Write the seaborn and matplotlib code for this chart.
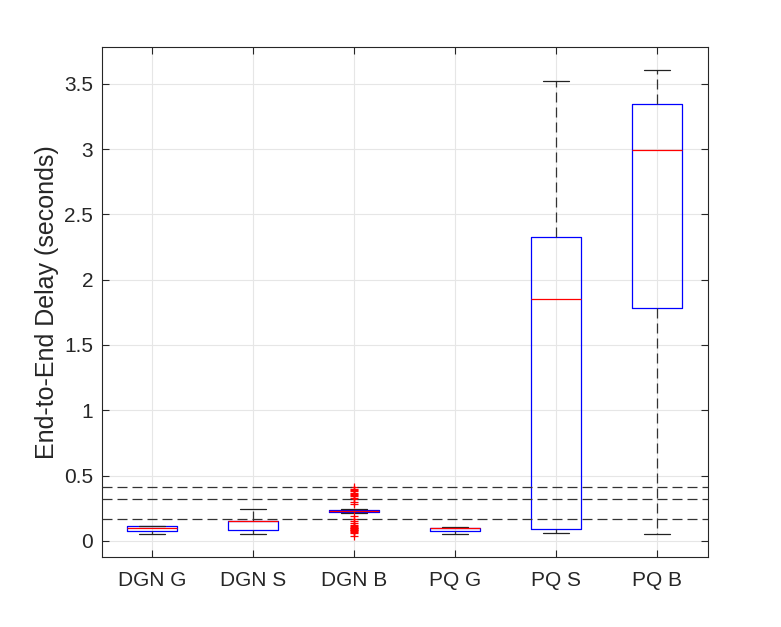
import matplotlib
matplotlib.use("Agg")
import matplotlib.pyplot as plt
import seaborn as sns

# Box statistics (seconds)
labels = ["DGN G", "DGN S", "DGN B", "PQ G", "PQ S", "PQ B"]
whis_lo = [0.049, 0.049, 0.215, 0.049, 0.059, 0.051]
q1 = [0.072, 0.082, 0.220, 0.072, 0.090, 1.780]
median = [0.097, 0.149, 0.228, 0.095, 1.850, 2.990]
q3 = [0.110, 0.153, 0.234, 0.097, 2.325, 3.344]
whis_hi = [0.113, 0.241, 0.243, 0.103, 3.520, 3.605]

# Outliers only appear for DGN B
dgn_b_fliers = [0.414, 0.40, 0.39, 0.38, 0.37, 0.36, 0.35, 0.34, 0.33, 0.32,
                0.30, 0.285, 0.19, 0.17, 0.155, 0.135, 0.12, 0.11, 0.105,
                0.10, 0.095, 0.09, 0.085, 0.08, 0.075, 0.07, 0.06, 0.04]
fliers = [[], [], dgn_b_fliers, [], [], []]

# Reference levels (dashed lines)
ref_levels = [0.41, 0.32, 0.164]

sns.set_style("whitegrid")
plt.rcParams['font.family'] = ['Liberation Sans', 'DejaVu Sans']

fig = plt.figure(figsize=(7.81, 6.27), dpi=100)
ax = fig.add_axes([0.130, 0.111, 0.776, 0.8136])

stats = []
for i, lab in enumerate(labels):
    stats.append({
        "label": lab, "whislo": whis_lo[i], "q1": q1[i], "med": median[i],
        "q3": q3[i], "whishi": whis_hi[i], "fliers": fliers[i],
    })

ax.bxp(stats, positions=range(1, len(labels) + 1), widths=0.5,
       boxprops=dict(color="blue", linewidth=0.9),
       medianprops=dict(color="red", linewidth=0.9),
       whiskerprops=dict(color="#333333", linewidth=0.9, linestyle=(0, (8, 4))),
       capprops=dict(color="#222222", linewidth=0.9),
       flierprops=dict(marker="+", markeredgecolor="red", markersize=6,
                       markeredgewidth=0.9, linestyle="none"),
       capwidths=0.25, zorder=3)

for lvl in ref_levels:
    ax.axhline(lvl, color="#333333", linewidth=0.9, linestyle=(0, (8, 4)), zorder=4)

ax.set_xlim(0.5, 6.5)
ax.set_ylim(-0.127, 3.78)
ax.set_yticks([0, 0.5, 1, 1.5, 2, 2.5, 3, 3.5])
ax.set_yticklabels(["0", "0.5", "1", "1.5", "2", "2.5", "3", "3.5"])
ax.set_ylabel("End-to-End Delay (seconds)", fontsize=18, color="#262626", labelpad=4)

ax.grid(True, color="#e6e6e6", linewidth=0.8)
ax.set_axisbelow(True)
for sp in ax.spines.values():
    sp.set_color("#262626")
    sp.set_linewidth(0.8)
    sp.set_visible(True)
ax.tick_params(axis="both", direction="in", length=5, width=0.8,
               color="#262626", labelsize=15, labelcolor="#262626",
               top=True, right=True, bottom=True, left=True)
ax.tick_params(axis="y", pad=6)
ax.tick_params(axis="x", pad=10)

plt.savefig("out.png", dpi=100)
